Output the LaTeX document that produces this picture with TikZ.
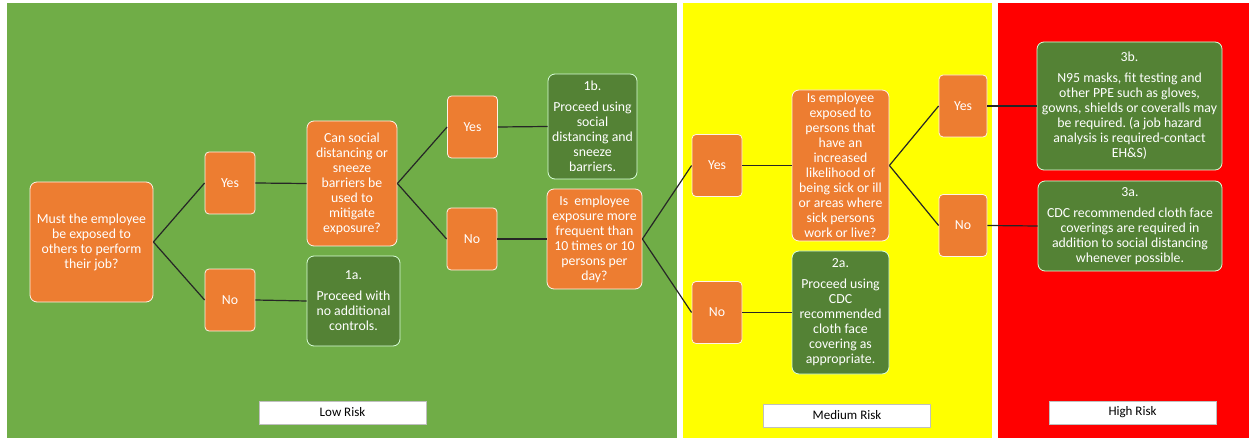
\documentclass[tikz,border=0pt]{standalone}
\usepackage{fontspec}
\setmainfont{Carlito}
\usepackage{tikz}
\usepackage{xcolor}
\usetikzlibrary{arrows.meta, calc, positioning}

\definecolor{riskgreen}{HTML}{70AD47}
\definecolor{riskyellow}{HTML}{FFFF00}
\definecolor{riskred}{HTML}{FF0000}
\definecolor{boxorange}{HTML}{ED7D31}
\definecolor{boxgreen}{HTML}{548235}

\newcommand{\boxfont}{\fontsize{13.8}{15}\selectfont\frenchspacing}

\tikzset{
  question/.style={draw=white!90!orange, line width=0.8pt, fill=boxorange, text=white,
    rounded corners=7pt, align=center, inner sep=0pt, font=\boxfont},
  answer/.style={question, rounded corners=4pt, minimum width=50pt, minimum height=62pt},
  action/.style={question, fill=boxgreen, draw=white!85!green},
  risklabel/.style={draw=black!25, line width=0.8pt, fill=white, text=black,
    minimum width=167pt, minimum height=23pt, inner sep=0pt, font=\fontsize{13}{15}\selectfont},
  link/.style={draw=black!85, line width=1.2pt}
}

\begin{document}
\begin{tikzpicture}[x=1pt, y=-1pt]
  \useasboundingbox (0,0) rectangle (1249,438);

  % Risk zones
  \fill[riskgreen] (7,3) rectangle (677,438);
  \fill[riskyellow] (683,3) rectangle (992,438);
  \fill[riskred] (998,3) rectangle (1249,438);

  % Low risk
  \node[question, minimum width=123pt, minimum height=120pt] (q1) at (91.5,242)
    {Must the employee\\be exposed to\\others to perform\\their job?};
  \node[answer] (yes1) at (230,183) {Yes};
  \node[answer] (no1) at (230,300) {No};
  \node[question, minimum width=90pt, minimum height=125pt] (q2) at (352,183.5)
    {Can social\\distancing or\\sneeze\\barriers be\\used to\\mitigate\\exposure?};
  \node[action, minimum width=93pt, minimum height=90pt] (act1a) at (353.5,301)
    {1a.\\[6pt]Proceed with\\no additional\\controls.};
  \node[answer] (yes2) at (472.5,127) {Yes};
  \node[answer] (no2) at (472,239) {No};
  \node[action, minimum width=89pt, minimum height=105pt] (act1b) at (592.5,126.5)
    {1b.\\[6pt]Proceed using\\social\\distancing and\\sneeze\\barriers.};
  \node[question, minimum width=95pt, minimum height=100pt] (q3) at (594.5,239)
    {Is\ \ employee\\exposure more\\frequent than\\10 times or 10\\persons per\\day?};

  % Medium risk
  \node[answer] (yes3) at (717,165.5) {Yes};
  \node[answer] (no3) at (717,312.5) {No};
  \node[question, minimum width=97pt, minimum height=151pt] (q4) at (840.5,165.5)
    {Is employee\\exposed to\\persons that\\have an\\increased\\likelihood of\\being sick or ill\\or areas where\\sick persons\\work or live?};
  \node[action, minimum width=97pt, minimum height=123pt] (act2a) at (840.5,312.5)
    {2a.\\[6pt]Proceed using\\CDC\\recommended\\cloth face\\covering as\\appropriate.};
  \node[answer, minimum width=48pt] (yes4) at (963,106) {Yes};
  \node[answer, minimum width=48pt] (no4) at (963,225.5) {No};

  % High risk
  \node[action, minimum width=185pt, minimum height=128pt] (act3b) at (1129.5,106)
    {3b.\\[6pt]N95 masks, fit testing and\\other PPE such as gloves,\\gowns, shields or coveralls may\\be required. (a job hazard\\analysis is required-contact\\EH\&S)};
  \node[action, minimum width=184pt, minimum height=90pt] (act3a) at (1130,226)
    {3a.\\[6pt]CDC recommended cloth face\\coverings are required in\\addition to social distancing\\whenever possible.};

  % Connectors
  \draw[link] (q1.east) -- (yes1.west);
  \draw[link] (q1.east) -- (no1.west);
  \draw[link] (yes1.east) -- (q2.west);
  \draw[link] (no1.east) -- (act1a.west);
  \draw[link] (q2.east) -- (yes2.west);
  \draw[link] (q2.east) -- (no2.west);
  \draw[link] (yes2.east) -- (act1b.west);
  \draw[link] (no2.east) -- (q3.west);
  \draw[link] (q3.east) -- (yes3.west);
  \draw[link] (q3.east) -- (no3.west);
  \draw[link] (yes3.east) -- (q4.west);
  \draw[link] (no3.east) -- (act2a.west);
  \draw[link] (q4.east) -- (yes4.west);
  \draw[link] (q4.east) -- (no4.west);
  \draw[link] (yes4.east) -- (act3b.west);
  \draw[link] (no4.east) -- (act3a.west);

  % Risk labels
  \node[risklabel] (lowrisk) at (342.5,412.5) {Low Risk};
  \node[risklabel] (medrisk) at (847,415.5) {Medium Risk};
  \node[risklabel] (highrisk) at (1132.5,412.5) {High Risk};
\end{tikzpicture}
\end{document}
